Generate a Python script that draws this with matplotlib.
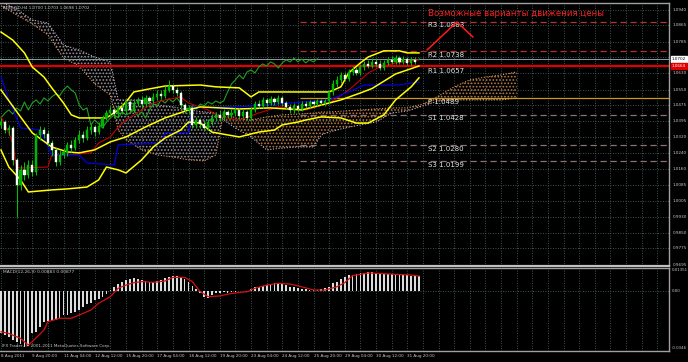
import matplotlib
matplotlib.use("Agg")
import matplotlib.pyplot as plt
import matplotlib.transforms as mtransforms
import numpy as np

# ---------------- data (AUDUSD H4) ----------------
opens = [1.0378, 1.0392, 1.0353, 1.0363, 1.0207, 1.0084, 1.0158, 1.0133, 1.0182, 1.0148,
         1.0329, 1.0353, 1.0334, 1.0290, 1.0255, 1.0197, 1.0231, 1.0246, 1.0280, 1.0265,
         1.0304, 1.0329, 1.0314, 1.0353, 1.0368, 1.0343, 1.0373, 1.0412, 1.0436, 1.0451,
         1.0431, 1.0461, 1.0446, 1.0490, 1.0451, 1.0485, 1.0500, 1.0480, 1.0510, 1.0495,
         1.0515, 1.0529, 1.0520, 1.0549, 1.0568, 1.0549, 1.0534, 1.0476, 1.0451, 1.0461,
         1.0378, 1.0402, 1.0383, 1.0363, 1.0392, 1.0412, 1.0427, 1.0412, 1.0441, 1.0427,
         1.0436, 1.0451, 1.0422, 1.0441, 1.0412, 1.0451, 1.0480, 1.0471, 1.0500, 1.0485,
         1.0505, 1.0490, 1.0510, 1.0485, 1.0466, 1.0451, 1.0471, 1.0456, 1.0480, 1.0471,
         1.0490, 1.0480, 1.0495, 1.0485, 1.0495, 1.0539, 1.0578, 1.0598, 1.0622, 1.0603,
         1.0637, 1.0647, 1.0632, 1.0661, 1.0676, 1.0666, 1.0686, 1.0676, 1.0656, 1.0681,
         1.0696, 1.0686, 1.0705, 1.0686, 1.0700, 1.0681, 1.0696, 1.0700]
closes = [1.0392, 1.0353, 1.0363, 1.0207, 1.0084, 1.0158, 1.0133, 1.0182, 1.0148, 1.0329,
          1.0353, 1.0334, 1.0290, 1.0255, 1.0197, 1.0231, 1.0246, 1.0280, 1.0265, 1.0304,
          1.0329, 1.0314, 1.0353, 1.0368, 1.0343, 1.0373, 1.0412, 1.0436, 1.0451, 1.0431,
          1.0461, 1.0446, 1.0490, 1.0451, 1.0485, 1.0500, 1.0480, 1.0510, 1.0495, 1.0515,
          1.0529, 1.0520, 1.0549, 1.0568, 1.0549, 1.0534, 1.0476, 1.0451, 1.0461, 1.0378,
          1.0402, 1.0383, 1.0363, 1.0392, 1.0412, 1.0427, 1.0412, 1.0441, 1.0427, 1.0436,
          1.0451, 1.0422, 1.0441, 1.0412, 1.0451, 1.0480, 1.0471, 1.0500, 1.0485, 1.0505,
          1.0490, 1.0510, 1.0485, 1.0466, 1.0451, 1.0471, 1.0456, 1.0480, 1.0471, 1.0490,
          1.0480, 1.0495, 1.0485, 1.0495, 1.0539, 1.0578, 1.0598, 1.0622, 1.0603, 1.0637,
          1.0647, 1.0632, 1.0661, 1.0676, 1.0666, 1.0686, 1.0676, 1.0656, 1.0681, 1.0696,
          1.0686, 1.0705, 1.0686, 1.0700, 1.0681, 1.0696, 1.0686, 1.0702]
highs = [1.0412, 1.0402, 1.0378, 1.0373, 1.0216, 1.0182, 1.0197, 1.0207, 1.0207, 1.0339,
         1.0373, 1.0368, 1.0353, 1.0304, 1.0265, 1.0255, 1.0265, 1.0295, 1.0304, 1.0319,
         1.0353, 1.0348, 1.0373, 1.0383, 1.0378, 1.0392, 1.0427, 1.0451, 1.0471, 1.0466,
         1.0476, 1.0480, 1.0500, 1.0505, 1.0500, 1.0515, 1.0520, 1.0524, 1.0520, 1.0534,
         1.0549, 1.0549, 1.0568, 1.0598, 1.0578, 1.0564, 1.0544, 1.0485, 1.0476, 1.0471,
         1.0417, 1.0412, 1.0402, 1.0407, 1.0431, 1.0441, 1.0451, 1.0456, 1.0451, 1.0456,
         1.0466, 1.0461, 1.0456, 1.0451, 1.0466, 1.0495, 1.0500, 1.0515, 1.0510, 1.0520,
         1.0515, 1.0524, 1.0520, 1.0495, 1.0480, 1.0485, 1.0480, 1.0495, 1.0495, 1.0500,
         1.0500, 1.0505, 1.0505, 1.0505, 1.0549, 1.0598, 1.0617, 1.0637, 1.0637, 1.0652,
         1.0666, 1.0661, 1.0676, 1.0691, 1.0696, 1.0705, 1.0700, 1.0696, 1.0696, 1.0710,
         1.0715, 1.0720, 1.0715, 1.0715, 1.0710, 1.0710, 1.0710, 1.0703]
lows = [1.0363, 1.0339, 1.0329, 1.0182, 0.9928, 1.0060, 1.0109, 1.0119, 1.0128, 1.0133,
        1.0304, 1.0314, 1.0275, 1.0226, 1.0177, 1.0182, 1.0216, 1.0226, 1.0246, 1.0255,
        1.0290, 1.0295, 1.0304, 1.0334, 1.0324, 1.0334, 1.0363, 1.0402, 1.0422, 1.0412,
        1.0422, 1.0431, 1.0436, 1.0441, 1.0441, 1.0471, 1.0461, 1.0471, 1.0480, 1.0485,
        1.0500, 1.0505, 1.0510, 1.0539, 1.0534, 1.0520, 1.0461, 1.0436, 1.0431, 1.0363,
        1.0363, 1.0363, 1.0348, 1.0353, 1.0378, 1.0397, 1.0397, 1.0402, 1.0412, 1.0412,
        1.0422, 1.0407, 1.0412, 1.0402, 1.0402, 1.0441, 1.0461, 1.0461, 1.0471, 1.0476,
        1.0476, 1.0480, 1.0471, 1.0456, 1.0436, 1.0436, 1.0441, 1.0446, 1.0461, 1.0461,
        1.0471, 1.0471, 1.0476, 1.0471, 1.0480, 1.0524, 1.0564, 1.0583, 1.0593, 1.0593,
        1.0622, 1.0622, 1.0622, 1.0647, 1.0656, 1.0656, 1.0661, 1.0647, 1.0647, 1.0671,
        1.0676, 1.0676, 1.0676, 1.0676, 1.0671, 1.0671, 1.0676, 1.0698]

# Bollinger bands (bar index, price)
bb_up_idx = [0, 3, 6, 8, 11, 13, 16, 18, 20, 27, 30, 32, 34, 38, 42, 51, 55, 61, 64, 66, 84, 87, 89, 92, 94, 98, 102, 104, 107]
bb_up = [1.0832, 1.0793, 1.0730, 1.0661, 1.0612, 1.0559, 1.0485, 1.0427, 1.0412, 1.0412, 1.0451, 1.0490, 1.0539,
         1.0554, 1.0568, 1.0573, 1.0564, 1.0559, 1.0515, 1.0539, 1.0539, 1.0564, 1.0632, 1.0681, 1.0710, 1.0740,
         1.0740, 1.0730, 1.0730]
bb_mid_idx = [0, 5, 8, 13, 17, 20, 24, 28, 32, 37, 42, 48, 51, 61, 69, 77, 84, 87, 92, 95, 101, 107]
bb_mid = [1.0549, 1.0417, 1.0339, 1.0270, 1.0246, 1.0241, 1.0256, 1.0295, 1.0319, 1.0368, 1.0412, 1.0451,
          1.0466, 1.0456, 1.0461, 1.0451, 1.0485, 1.0500, 1.0534, 1.0556, 1.0627, 1.0666]
bb_lo_idx = [0, 2, 5, 7, 13, 17, 22, 25, 27, 30, 32, 36, 39, 42, 46, 48, 51, 54, 58, 61, 66, 70, 72, 76, 78,
             82, 87, 91, 94, 98, 101, 105, 107]
bb_lo = [1.0255, 1.0172, 1.0109, 1.0050, 1.0060, 1.0065, 1.0074, 1.0109, 1.0172, 1.0158, 1.0143, 1.0207,
         1.0270, 1.0314, 1.0353, 1.0392, 1.0387, 1.0343, 1.0329, 1.0319, 1.0343, 1.0353, 1.0378, 1.0392,
         1.0402, 1.0417, 1.0412, 1.0387, 1.0387, 1.0427, 1.0500, 1.0564, 1.0608]

# Ichimoku: Tenkan-sen (red) and Kijun-sen (blue)
tenkan_idx = [0, 2, 3, 4, 5, 12, 13, 17, 23, 25, 28, 30, 32, 36, 39, 42, 46, 48, 53, 56, 61, 66, 71, 78, 84,
              88, 90, 92, 94, 97, 101, 107]
tenkan = [1.0417, 1.0339, 1.0290, 1.0172, 1.0167, 1.0172, 1.0231, 1.0231, 1.0241, 1.0290, 1.0319, 1.0368,
          1.0402, 1.0451, 1.0485, 1.0500, 1.0515, 1.0485, 1.0451, 1.0417, 1.0402, 1.0436, 1.0466, 1.0451,
          1.0485, 1.0534, 1.0564, 1.0598, 1.0632, 1.0661, 1.0681, 1.0696]
kijun_idx = [0, 2, 4, 5, 10, 13, 20, 22, 29, 30, 41, 42, 48, 49, 61, 84, 89, 93, 102, 107]
kijun = [1.0612, 1.0500, 1.0412, 1.0363, 1.0353, 1.0231, 1.0231, 1.0192, 1.0182, 1.0280, 1.0290, 1.0339,
         1.0339, 1.0466, 1.0466, 1.0500, 1.0539, 1.0573, 1.0573, 1.0588]

# Ichimoku cloud (shifted 26 bars forward): Senkou span A and B
cloud_idx = [0, 4, 8, 12, 16, 20, 24, 28, 30, 32, 36, 40, 44, 48, 52, 55, 57, 60, 64, 68, 72, 76, 80, 82,
             84, 88, 92, 96, 100, 104, 108, 112, 116, 120, 124, 128, 132]
span_a = [1.0960, 1.0916, 1.0872, 1.0818, 1.0705, 1.0666, 1.0578, 1.0524, 1.0353, 1.0305, 1.0256, 1.0231,
          1.0221, 1.0207, 1.0202, 1.0231, 1.0441, 1.0412, 1.0402, 1.0417, 1.0427, 1.0431, 1.0436, 1.0441,
          1.0441, 1.0446, 1.0451, 1.0456, 1.0461, 1.0461, 1.0480, 1.0519, 1.0564, 1.0598, 1.0612, 1.0622,
          1.0637]
span_b = [1.0979, 1.0945, 1.0891, 1.0876, 1.0769, 1.0744, 1.0710, 1.0686, 1.0500, 1.0500, 1.0500, 1.0476,
          1.0466, 1.0451, 1.0441, 1.0436, 1.0402, 1.0363, 1.0319, 1.0256, 1.0265, 1.0270, 1.0270, 1.0329,
          1.0343, 1.0363, 1.0378, 1.0392, 1.0436, 1.0446, 1.0471, 1.0495, 1.0500, 1.0500, 1.0500, 1.0500,
          1.0510]

# MACD histogram (main) and signal line
macd_hist = [-0.0249, -0.0258, -0.0272, -0.0288, -0.0297, -0.0311, -0.0327, -0.0323, -0.0245, -0.0239,
             -0.0209, -0.0180, -0.0174, -0.0174, -0.0170, -0.0160, -0.0141, -0.0141, -0.0131, -0.0121,
             -0.0112, -0.0092, -0.0076, -0.0068, -0.0053, -0.0049, -0.0033, -0.0018, 0.0006, 0.0025,
             0.0041, 0.0055, 0.0065, 0.0070, 0.0074, 0.0068, 0.0065, 0.0061, 0.0055, 0.0055,
             0.0061, 0.0065, 0.0074, 0.0084, 0.0088, 0.0088, 0.0080, 0.0068, 0.0053, 0.0029,
             0.0010, -0.0014, -0.0033, -0.0043, -0.0023, -0.0014, -0.0010, -0.0006, -0.0010, -0.0006,
             -0.0004, 0.0002, -0.0002, -0.0004, 0.0010, 0.0022, 0.0025, 0.0029, 0.0035, 0.0039,
             0.0045, 0.0045, 0.0045, 0.0035, 0.0025, 0.0022, 0.0016, 0.0014, 0.0010, 0.0006,
             0.0006, 0.0006, 0.0010, 0.0016, 0.0025, 0.0045, 0.0055, 0.0068, 0.0084, 0.0092,
             0.0096, 0.0100, 0.0104, 0.0108, 0.0112, 0.0110, 0.0108, 0.0104, 0.0102, 0.0100,
             0.0098, 0.0098, 0.0096, 0.0096, 0.0092, 0.0090, 0.0088, 0.0088]
signal_idx = [0, 2, 5, 7, 8, 11, 12, 15, 18, 20, 23, 25, 28, 30, 32, 34, 36, 39, 42, 44, 47, 49, 51, 53, 56,
              59, 63, 65, 68, 71, 74, 77, 80, 83, 86, 88, 90, 94, 96, 101, 105, 107]
signal = [-0.0239, -0.0249, -0.0278, -0.0317, -0.0297, -0.0229, -0.0180, -0.0160, -0.0160, -0.0141,
          -0.0112, -0.0072, -0.0033, 0.0016, 0.0035, 0.0049, 0.0055, 0.0051, 0.0059, 0.0080,
          0.0080, 0.0055, -0.0004, -0.0033, -0.0029, -0.0014, -0.0004, 0.0016, 0.0035, 0.0045,
          0.0041, 0.0025, 0.0006, 0.0006, 0.0025, 0.0049, 0.0090, 0.0106, 0.0104, 0.0098,
          0.0094, 0.0088]

# pivot levels
pivot_names = ["R3", "R2", "R1", "P", "S1", "S2", "S3"]
pivot_values = [1.0883, 1.0738, 1.0657, 1.0489, 1.0428, 1.0280, 1.0199]

# price axis labels
price_ticks = [1.0940, 1.0865, 1.0785, 1.0630, 1.0550, 1.0475, 1.0395, 1.0320, 1.0240, 1.0160,
               1.0085, 1.0005, 0.9930, 0.9850, 0.9775, 0.9695]
time_labels = ["8 Aug 2011", "9 Aug 20:00", "11 Aug 04:00", "12 Aug 12:00", "15 Aug 20:00",
               "17 Aug 04:00", "18 Aug 12:00", "19 Aug 20:00", "23 Aug 04:00", "24 Aug 12:00",
               "25 Aug 20:00", "29 Aug 04:00", "30 Aug 12:00", "31 Aug 20:00"]

# hand-drawn forecast path (bar index, price)
forecast_idx = [109.1, 116.7, 120.8]
forecast_price = [1.0745, 1.0881, 1.0808]

bid_price = 1.0702
hline_price = 1.0664
orange_price = 1.0508

# ---------------- drawing ----------------
W, H = 688, 362
plt.rcParams['hatch.linewidth'] = 0.8
fig = plt.figure(figsize=(W / 100, H / 100), dpi=100, facecolor='black')
ax = fig.add_axes([0, 1 - 266 / H, 669 / W, 263 / H])
ax2 = fig.add_axes([0, 1 - 351 / H, 669 / W, 83 / H])
XL = (-0.256, 171.0)
GRID = '#4f6f69'
TXT = '#c8c8c8'

for a in (ax, ax2):
    a.set_facecolor('black')
    a.set_xlim(*XL)
    a.set_xticks([])
    a.set_yticks([])
    for s in a.spines.values():
        s.set_color('#a0a0a0')
        s.set_linewidth(1.0)
    a.spines['left'].set_visible(False)
    for gx in range(0, 172, 4):
        a.axvline(gx, color=GRID, lw=0.6, ls=(0, (1, 2)), zorder=0.5)

ax.set_ylim(0.9688, 1.0974)
ax.spines['bottom'].set_color('#c0c0c0')
ax.spines['bottom'].set_linewidth(1.6)
for pv in price_ticks + [1.0710]:
    ax.axhline(pv, color=GRID, lw=0.6, ls=(0, (1, 2)), zorder=0.5)

# cloud
ci = np.array(cloud_idx, dtype=float)
sa = np.array(span_a)
sb = np.array(span_b)
ax.fill_between(ci, sa, sb, where=sa >= sb, interpolate=True, facecolor='none',
                edgecolor='#b87a45', hatch='.....', linewidth=0, zorder=1)
ax.fill_between(ci, sa, sb, where=sa < sb, interpolate=True, facecolor='none',
                edgecolor='#9a8f9a', hatch='.....', linewidth=0, zorder=1)
ax.plot(ci, sa, color='#e09a5a', lw=0.8, ls=(0, (1, 1.5)), zorder=1.2)
ax.plot(ci, sb, color='#c8b0c8', lw=0.8, ls=(0, (1, 1.5)), zorder=1.2)

# pivot lines and the other horizontal lines
start_bar = 76.5
for name, val in zip(pivot_names, pivot_values):
    if name in ("R3", "R2"):
        ax.hlines(val, start_bar, XL[1], color='#b83030', lw=0.9, ls=(0, (5, 3)), zorder=1.5)
    elif name.startswith("S"):
        ax.hlines(val, start_bar, XL[1], color='#8f7070', lw=0.9, ls=(0, (5, 3)), zorder=1.5)
ax.hlines(orange_price, start_bar, XL[1], color='#c89a1a', lw=0.9, zorder=1.5)
ax.axhline(bid_price, color='#8aa0a8', lw=0.7, zorder=1.6)
ax.axhline(hline_price, color='#e00000', lw=1.6, zorder=1.6)

# indicators
ax.plot(bb_up_idx, bb_up, color='#ffff00', lw=1.1, zorder=3)
ax.plot(bb_mid_idx, bb_mid, color='#ffff00', lw=1.1, zorder=3)
ax.plot(bb_lo_idx, bb_lo, color='#ffff00', lw=1.1, zorder=3)
ax.plot(tenkan_idx, tenkan, color='#c00000', lw=0.8, zorder=2.6)
ax.plot(kijun_idx, kijun, color='#0000e0', lw=0.9, zorder=2.6)
n = len(closes)
ax.plot(np.arange(n - 26), closes[26:], color='#20a020', lw=0.8, zorder=2.5)

# candles
o = np.array(opens); c = np.array(closes); hi = np.array(highs); lo = np.array(lows)
idx = np.arange(n)
ax.vlines(idx, lo, hi, color='#00c800', lw=0.7, zorder=4)
bull = c >= o
body_b = np.minimum(o, c)
body_h = np.maximum(np.abs(c - o), 0.00012)
ax.bar(idx[bull], body_h[bull], bottom=body_b[bull], width=0.55, color='#00b000',
       edgecolor='#00d000', linewidth=0.3, zorder=5)
ax.bar(idx[~bull], body_h[~bull], bottom=body_b[~bull], width=0.55, color='white',
       edgecolor='#e0ffe0', linewidth=0.3, zorder=5)

# annotations
for name, val in zip(pivot_names, pivot_values):
    yv = val - 0.0003
    if name == "P":
        yv = val + 0.0014
    ax.text(109.3, yv, f"{name} {val:.4f}", color='#e6e6e6', fontsize=5, va='top', ha='left', zorder=6)
ax.text(109.3, 1.0925, "Возможные варианты движения цены", color='#ff2020', fontsize=6.2,
        va='center', ha='left', zorder=6)
ax.plot(forecast_idx, forecast_price, color='#ff1a1a', lw=1.1, zorder=6)
ax.text(0.004, 1 - 3 / 263, "AUDUSD,H4 1.0700 1.0703 1.0698 1.0702", transform=ax.transAxes,
        color=TXT, fontsize=3.0, va='top', ha='left')

# right price labels
tr = mtransforms.blended_transform_factory(ax.transAxes, ax.transData)
for pv in price_ticks:
    ax.text(1.005, pv, f"{pv:.4f}", transform=tr, color=TXT, fontsize=3.0, va='center', ha='left', clip_on=False)
ax.text(1.004, bid_price, f"{bid_price:.4f}", transform=tr, color='black', fontsize=3.0, va='center',
        ha='left', bbox=dict(boxstyle='square,pad=0.25', fc='white', ec='white'), clip_on=False)
ax.text(1.004, hline_price, f"{hline_price:.4f}", transform=tr, color='white', fontsize=3.0, va='center',
        ha='left', bbox=dict(boxstyle='square,pad=0.25', fc='#e00000', ec='#e00000'), clip_on=False)

# MACD panel
ax2.set_ylim(-0.0352, 0.01351)
ax2.axhline(0, color=GRID, lw=0.6, ls=(0, (1, 2)), zorder=0.5)
ax2.bar(np.arange(len(macd_hist)), macd_hist, width=0.45, color='#dcdcdc', zorder=2)
ax2.plot(signal_idx, signal, color='#d01010', lw=0.9, zorder=3)
ax2.text(0.004, 1 - 2 / 83, "MACD(12,26,9) 0.00883 0.00877", transform=ax2.transAxes, color=TXT,
         fontsize=3.2, va='top', ha='left')
ax2.text(0.003, 3 / 83, "IFX Trader, © 2001-2011 MetaQuotes Software Corp.", transform=ax2.transAxes,
         color=TXT, fontsize=3.0, va='bottom', ha='left')
tr2 = mtransforms.blended_transform_factory(ax2.transAxes, ax2.transData)
ax2.text(1.004, 0.0122, "0.01351", transform=tr2, color=TXT, fontsize=2.8, va='center', ha='left')
ax2.text(1.004, 0.0, "0.00", transform=tr2, color=TXT, fontsize=2.8, va='center', ha='left')
ax2.text(1.004, -0.0335, "-0.0346", transform=tr2, color=TXT, fontsize=2.8, va='center', ha='left')

# time labels
trt = mtransforms.blended_transform_factory(ax2.transData, fig.transFigure)
for k, lab in enumerate(time_labels):
    ax2.text(8 * k, 1 - 356 / H, lab, transform=trt, color=TXT, fontsize=3.0, va='center', ha='left')

fig.savefig("out.png", dpi=100, facecolor='black')
